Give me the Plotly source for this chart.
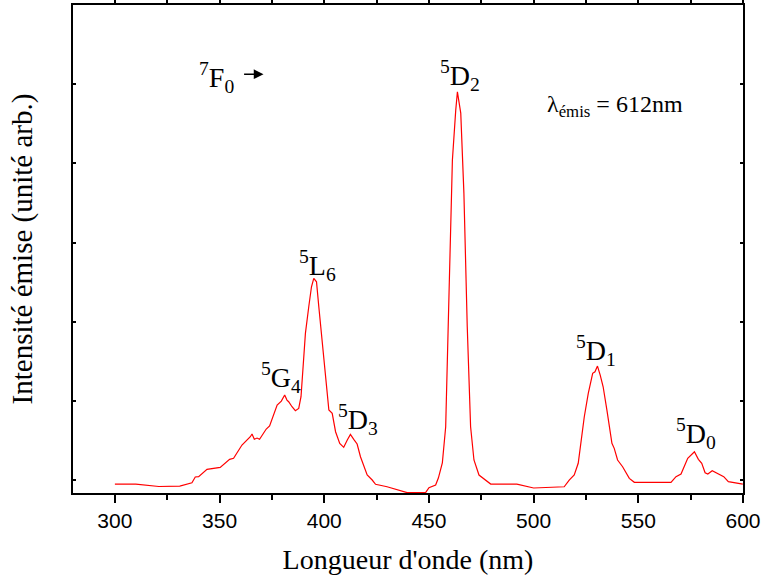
import plotly.graph_objects as go

# Excitation spectrum (wavelength nm, intensity arb. units)
wavelength = [300, 310, 321, 331, 336.8, 338.4, 340, 344, 350.3, 354.8, 356.7, 360.7, 364.7, 365.5,
              366.6, 367.9, 369.1, 370.3, 372.3, 373.9, 375.5, 377.5, 379.5, 381.1, 382.2, 383,
              384.6, 386.2, 387.8, 388.9, 389.9, 391, 392.6, 393.9, 395, 396.3, 397.4, 399, 400.6,
              402.2, 403.8, 405.4, 407.4, 409.3, 411, 412.5, 414.1, 415.7, 417.3, 418.9, 420.5,
              422.9, 424.5, 430, 439.6, 448.4, 450, 453.2, 454.5, 456.4, 458, 459.6, 461.2, 462.8,
              463.6, 465.2, 466.7, 468.3, 469.9, 471.5, 473.9, 479.5, 492, 500, 514.6, 517, 519.4,
              521.3, 522.6, 524.2, 526.1, 528.2, 529.3, 530.5, 531.8, 533.2, 535, 537.4, 538.5,
              540.1, 542.5, 545.7, 548.1, 565.6, 568, 570.4, 573.6, 576.8, 578.7, 580.3, 581.9,
              583.2, 585.3, 588, 590.8, 593, 595.9, 599.9]
intensity = [-0.051, -0.051, -0.082, -0.076, -0.034, 0.038, 0.042, 0.135, 0.160, 0.261, 0.274, 0.442,
             0.547, 0.581, 0.514, 0.530, 0.514, 0.568, 0.644, 0.682, 0.799, 0.947, 0.997, 1.073,
             1.010, 0.989, 0.926, 0.875, 0.905, 1.052, 1.431, 1.852, 2.188, 2.441, 2.547, 2.504,
             2.188, 1.726, 1.263, 0.884, 0.842, 0.610, 0.463, 0.413, 0.505, 0.577, 0.514, 0.455,
             0.294, 0.189, 0.063, 0.000, -0.054, -0.085, -0.160, -0.160, -0.097, -0.063, 0.025,
             0.215, 0.673, 2.361, 4.040, 4.672, 4.903, 4.634, 3.624, 1.936, 0.673, 0.253, 0.063,
             -0.051, -0.051, -0.101, -0.085, 0.000, 0.063, 0.211, 0.505, 0.799, 1.095, 1.347,
             1.367, 1.439, 1.326, 1.178, 0.884, 0.463, 0.400, 0.253, 0.168, 0.021, -0.029,
             -0.029, 0.042, 0.076, 0.274, 0.357, 0.261, 0.211, 0.092, 0.076, 0.117, 0.076, 0.042,
             -0.021, -0.034, -0.051]

x_ticks = [300, 350, 400, 450, 500, 550, 600]

# Transition labels
label_text = ["<sup>5</sup>D<sub>2</sub>", "<sup>5</sup>L<sub>6</sub>", "<sup>5</sup>G<sub>4</sub>",
              "<sup>5</sup>D<sub>3</sub>", "<sup>5</sup>D<sub>1</sub>", "<sup>5</sup>D<sub>0</sub>"]
label_x = [464.9, 397.0, 379.4, 416.2, 529.9, 577.7]
label_y = [5.11, 2.71, 1.29, 0.76, 1.64, 0.59]

serif = "Liberation Serif, Times New Roman, serif"

fig = go.Figure()
fig.add_trace(go.Scatter(x=wavelength, y=intensity, mode="lines",
                         line=dict(color="#ff0000", width=1.2), showlegend=False,
                         hoverinfo="skip"))

for t, lx, ly in zip(label_text, label_x, label_y):
    fig.add_annotation(x=lx, y=ly, text=t, showarrow=False,
                       font=dict(family=serif, size=28, color="black"),
                       xanchor="center", yanchor="middle")

fig.add_annotation(x=348.5, y=5.08, text="<sup>7</sup>F<sub>0</sub>", showarrow=False,
                   font=dict(family=serif, size=28, color="black"),
                   xanchor="center", yanchor="middle")
fig.add_annotation(x=371.0, y=5.126, ax=361.0, ay=5.126, axref="x", ayref="y",
                   text="", showarrow=True, arrowhead=2, arrowsize=1.3, arrowwidth=1.5,
                   arrowcolor="black")
fig.add_annotation(x=539, y=4.73, text="λ<sub>émis</sub> = 612nm", showarrow=False,
                   font=dict(family=serif, size=24, color="black"),
                   xanchor="center", yanchor="middle")

fig.update_layout(
    width=762, height=577,
    margin=dict(l=73, r=19, t=5, b=84, autoexpand=False),
    paper_bgcolor="white", plot_bgcolor="white",
    xaxis=dict(range=[280, 600], tickvals=x_ticks, ticks="outside", ticklen=8, tickwidth=1.5,
               tickcolor="black", showline=True, linecolor="black", linewidth=2, mirror="ticks",
               showgrid=False, zeroline=False, automargin=False,
               minor=dict(dtick=25, tick0=275, ticks="outside", ticklen=5, tickwidth=1.5,
                          tickcolor="black", showgrid=False),
               tickfont=dict(family="Liberation Sans, Arial, sans-serif", size=21, color="black"),
               title=dict(text="Longueur d'onde (nm)", standoff=18,
                          font=dict(family=serif, size=28, color="black"))),
    yaxis=dict(range=[-0.164, 6.0], tickvals=[0, 1, 2, 3, 4, 5], ticks="inside", ticklen=3,
               tickwidth=1.5, tickcolor="black", showticklabels=False, showline=True,
               linecolor="black", linewidth=2, mirror="ticks", showgrid=False, zeroline=False,
               automargin=False,
               title=dict(text="Intensité émise (unité arb.)", standoff=30,
                          font=dict(family=serif, size=29, color="black"))),
)

fig.write_html("out.html", config={"displayModeBar": False},
               post_script="document.body.style.margin='0';")
